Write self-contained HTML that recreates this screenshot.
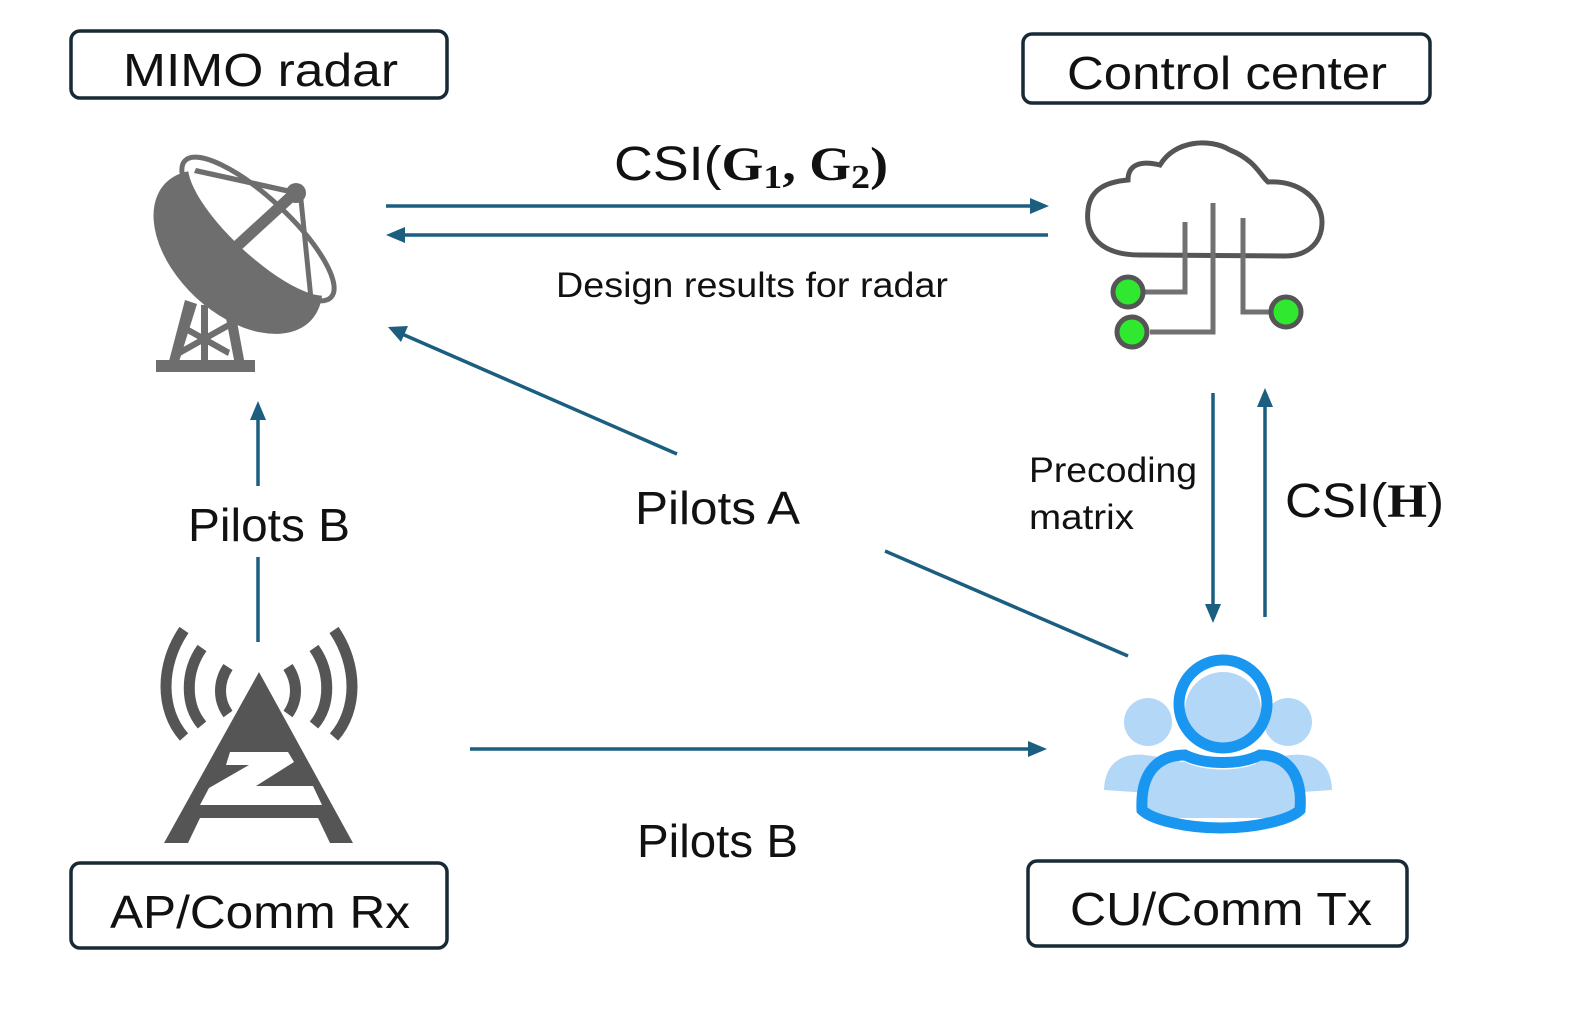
<!DOCTYPE html>
<html><head><meta charset="utf-8"><style>
html,body{margin:0;padding:0;background:#fff;}
svg{display:block;}
text{font-family:"Liberation Sans",sans-serif;fill:#111;}
.b{font-family:"Liberation Serif",serif;font-weight:bold;}
</style></head><body>
<svg width="1577" height="1021" viewBox="0 0 1577 1021" xmlns="http://www.w3.org/2000/svg">
<!-- boxes -->
<g fill="none" stroke="#172a35" stroke-width="3.5">
<rect x="71" y="31" width="376" height="67" rx="9"/>
<rect x="1023" y="34" width="407" height="69" rx="9"/>
<rect x="71" y="863" width="376" height="85" rx="9"/>
<rect x="1028" y="861" width="379" height="85" rx="9"/>
</g>
<text x="123" y="86" font-size="46" textLength="275" lengthAdjust="spacingAndGlyphs">MIMO radar</text>
<text x="1067" y="89" font-size="46" textLength="320" lengthAdjust="spacingAndGlyphs">Control center</text>
<text x="110" y="928" font-size="46" textLength="300" lengthAdjust="spacingAndGlyphs">AP/Comm Rx</text>
<text x="1070" y="925" font-size="46" textLength="302" lengthAdjust="spacingAndGlyphs">CU/Comm Tx</text>

<!-- connectors -->
<g stroke="#1c5e80" stroke-width="3.5" fill="none">
<line x1="386" y1="206" x2="1032" y2="206"/>
<line x1="1048" y1="235" x2="402" y2="235"/>
<line x1="1128" y1="656" x2="885" y2="551"/>
<line x1="677" y1="454" x2="402" y2="334"/>
<line x1="258" y1="642" x2="258" y2="557"/>
<line x1="258" y1="486" x2="258" y2="418"/>
<line x1="470" y1="749" x2="1030" y2="749"/>
<line x1="1213" y1="393" x2="1213" y2="606"/>
<line x1="1265" y1="617" x2="1265" y2="404"/>
</g>
<g fill="#1c5e80">
<polygon points="1049,206 1030,198 1030,214"/>
<polygon points="386,235 405,227 405,243"/>
<polygon points="388,327 401,342 408,326"/>
<polygon points="258,401 250,420 266,420"/>
<polygon points="1047,749 1028,741 1028,757"/>
<polygon points="1213,623 1205,604 1221,604"/>
<polygon points="1265,388 1257,407 1273,407"/>
</g>

<!-- labels -->
<text x="614" y="180" font-size="48" textLength="274" lengthAdjust="spacingAndGlyphs">CSI(<tspan class="b">G</tspan><tspan class="b" font-size="34" dy="8">1</tspan><tspan class="b" dy="-8">, G</tspan><tspan class="b" font-size="34" dy="8">2</tspan><tspan class="b" dy="-8">)</tspan></text>
<text x="556" y="297" font-size="35" textLength="392" lengthAdjust="spacingAndGlyphs">Design results for radar</text>
<text x="188" y="541" font-size="46" textLength="162" lengthAdjust="spacingAndGlyphs">Pilots B</text>
<text x="635" y="524" font-size="46" textLength="165" lengthAdjust="spacingAndGlyphs">Pilots A</text>
<text x="637" y="857" font-size="46" textLength="161" lengthAdjust="spacingAndGlyphs">Pilots B</text>
<text x="1029" y="482" font-size="35" textLength="168" lengthAdjust="spacingAndGlyphs">Precoding</text>
<text x="1029" y="529" font-size="35" textLength="105" lengthAdjust="spacingAndGlyphs">matrix</text>
<text x="1285" y="517" font-size="48" textLength="159" lengthAdjust="spacingAndGlyphs">CSI(<tspan class="b">H</tspan>)</text>

<!-- radar dish -->
<g fill="#6e6e6e" stroke="none">
<ellipse cx="238" cy="252" rx="100" ry="62" transform="rotate(43 238 252)"/>
<ellipse cx="262" cy="226" rx="97" ry="30" fill="#fff" transform="rotate(43 262 226)"/>
<ellipse cx="258" cy="229" rx="100" ry="31" fill="none" stroke="#6e6e6e" stroke-width="5" transform="rotate(43 258 229)"/>
<circle cx="296" cy="193" r="10"/>
<polygon points="232,243 240,251 300,196 292,188"/>
<polygon points="194,173 196,168 296,190 294,195"/>
<polygon points="298,195 303,195 313,294 308,294"/>
<polygon points="185,300 197,304 178,365 168,365"/>
<polygon points="225,313 235,311 245,365 235,365"/>
<rect x="201" y="305" width="7" height="60"/>
<polygon points="180,322 230,350 228,356 178,328"/>
<polygon points="228,322 230,328 180,356 178,350"/>
<rect x="156" y="360" width="99" height="12"/>
</g>

<!-- AP tower -->
<g fill="#555">
<polygon points="259,672 353,843 330,843 318,818 200,818 188,843 164,843"/>
</g>
<g fill="#fff">
<polygon points="230,752 288,752 294,762 256,786 313,786 322,805 200,805 209,788 249,765 226,765"/>
</g>
<g fill="none" stroke="#555" stroke-width="11">
<path d="M228,667 C218,682 218,700 228,714"/>
<path d="M202,648 C185,672 185,705 202,725"/>
<path d="M184,630 C160,665 160,710 184,737"/>
<path d="M288,667 C298,682 298,700 288,714"/>
<path d="M314,648 C331,672 331,705 314,725"/>
<path d="M334,630 C358,665 358,710 334,737"/>
</g>

<!-- cloud -->
<g fill="none" stroke="#555" stroke-width="5">
<path d="M1140,255 C1100,255 1085,235 1088,210 C1090,190 1105,182 1128,180 C1128,165 1140,160 1160,165 C1175,140 1210,138 1230,150 C1255,160 1260,175 1268,182 C1300,180 1322,200 1322,222 C1322,245 1305,256 1285,256 Z"/>
</g>
<g fill="none" stroke="#717171" stroke-width="5">
<path d="M1185,222 L1185,292 L1145,292"/>
<path d="M1213,203 L1213,332 L1150,332"/>
<path d="M1243,218 L1243,312 L1270,312"/>
</g>
<g stroke="#555" stroke-width="5" fill="#2fe82f">
<circle cx="1128" cy="292" r="15"/>
<circle cx="1132" cy="332" r="15"/>
<circle cx="1286" cy="312" r="15"/>
</g>

<!-- users -->
<g fill="#b3d7f7">
<circle cx="1148" cy="722" r="24"/>
<circle cx="1288" cy="722" r="24"/>
<path d="M1104,790 C1105,760 1125,753 1145,755 L1180,760 L1180,795 Z"/>
<path d="M1332,790 C1331,760 1311,753 1291,755 L1256,760 L1256,795 Z"/>
<circle cx="1223" cy="710" r="38"/>
<path d="M1145,818 C1145,775 1160,762 1185,762 C1205,772 1240,772 1260,762 C1285,762 1296,780 1296,818 Z"/>
</g>
<g fill="none" stroke="#1896f0" stroke-width="11">
<circle cx="1223" cy="704" r="44"/>
<path d="M1142,810 C1140,770 1160,755 1185,755 C1205,765 1240,765 1260,755 C1285,755 1303,772 1300,810 C1290,820 1255,828 1221,828 C1187,828 1152,820 1142,810 Z"/>
</g>
</svg>
</body></html>
